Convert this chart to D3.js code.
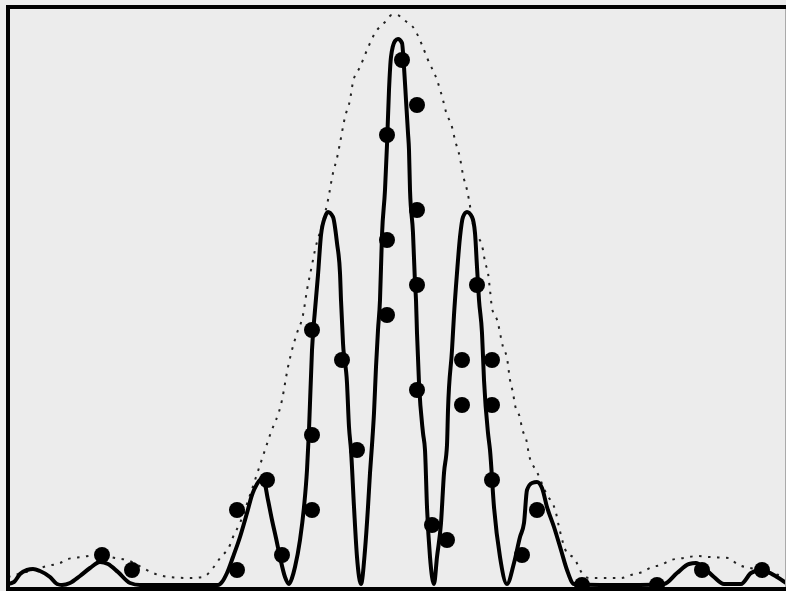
<!DOCTYPE html>
<html>
<head>
<meta charset="utf-8">
<script src="https://cdn.jsdelivr.net/npm/d3@7/dist/d3.min.js"></script>
<style>
  html, body { margin: 0; padding: 0; background: #ececec; }
  svg { display: block; }
</style>
</head>
<body>
<svg id="chart" width="786" height="591"></svg>
<script>
// Solid curve: intensity pattern [x, intensity]
const curveX = [-38.9,-38.3,-37.7,-37.0,-36.4,-35.7,-34.7,-34.0,-33.5,-32.7,-31.7,-30.7,-29.7,-28.9,-27.9,-26.7,-25.7,-21.7,-17.9,-17.5,-17.0,-16.4,-15.7,-15.0,-14.5,-14.0,-13.4,-12.9,-12.5,-12.1,-11.7,-11.2,-10.8,-10.5,-10.2,-9.7,-9.3,-9.0,-8.8,-8.5,-8.2,-7.9,-7.6,-7.2,-6.9,-6.4,-6.0,-5.7,-5.6,-5.4,-5.0,-4.8,-4.6,-4.3,-4.0,-3.6,-3.2,-2.9,-2.7,-2.5,-2.3,-2.1,-1.9,-1.7,-1.5,-1.2,-1.0,-0.8,-0.6,-0.2,0.1,0.5,0.7,0.9,1.1,1.2,1.3,1.6,1.8,1.9,2.0,2.2,2.6,2.8,3.0,3.3,3.7,4.0,4.4,4.7,5.0,5.1,5.5,5.7,6.0,6.3,6.6,7.0,7.5,7.8,8.0,8.2,8.5,8.7,9.1,9.3,9.7,10.3,11.0,11.7,12.3,12.7,13.0,13.5,14.0,14.5,15.0,15.7,16.4,17.0,17.7,20.3,24.3,26.7,28.0,29.2,29.9,30.7,31.7,32.7,34.4,35.4,36.0,37.0,38.0,38.9];
const curveY = [0.1,0.3,1.1,1.5,1.6,1.4,0.8,0.1,0,0.2,0.9,1.7,2.3,2.1,1.3,0.2,0,0,0,0.3,1.2,2.8,4.8,7.2,9.0,10.1,10.7,8.5,6.5,4.7,2.8,0.8,0.1,0.7,1.8,4.5,7.8,11.5,15.5,23.5,27.5,31.0,35.0,36.8,37.3,36.8,34.2,31.2,28.5,24.2,20.2,15.8,13.5,7.8,2.8,0.1,3.5,7.8,11.2,14.0,17.2,21.8,25.5,28.5,35.0,39.5,44.0,49.5,52.8,54.4,54.6,54.2,51.8,48.5,45.2,43.5,39.5,35.2,30.2,28.5,25.2,20.2,15.2,13.5,7.8,2.8,0.1,2.8,6.2,11.2,14.0,17.5,23.5,27.0,31.2,34.8,36.8,37.3,36.8,35.2,31.8,28.5,25.2,20.5,15.2,13.5,7.8,2.8,0.1,2.2,4.8,6.2,9.5,10.2,10.3,9.7,7.8,5.8,3.5,1.5,0.1,0,0,0.1,1.2,2.1,2.2,1.7,0.8,0.1,0.1,1.2,1.4,1.3,0.8,0.2];

// Dotted envelope [x, intensity]
const envX = [-38.9,-38.2,-36.7,-35.0,-33.7,-32.9,-31.5,-30.0,-28.2,-26.7,-25.4,-24.4,-22.7,-20.7,-19.4,-18.4,-17.7,-16.7,-16.4,-15.7,-14.7,-13.7,-12.7,-11.5,-10.9,-10.5,-10.0,-9.4,-9.0,-8.5,-8.2,-7.5,-6.9,-6.4,-6.0,-5.7,-5.2,-4.7,-4.4,-3.7,-3.0,-2.2,-1.2,-0.5,0,0.7,1.8,2.5,3.1,4.0,4.6,4.9,5.5,5.8,6.3,6.6,7.0,7.2,7.6,8.6,8.8,9.1,9.3,9.5,10.1,10.3,10.6,11.0,11.3,11.6,11.8,12.3,12.5,13.0,13.2,14.0,14.9,15.9,16.2,17.0,17.7,18.5,19.2,20.9,22.4,23.4,24.5,25.5,26.4,27.4,28.7,30.0,31.2,33.2,34.0,36.3,38.9];
const envY = [0.8,1.0,1.4,1.9,2.2,2.6,2.8,3.0,2.7,2.4,1.7,1.2,0.8,0.7,0.8,1.7,2.7,4.0,4.8,6.2,9.0,12.0,15.0,18.5,21.8,23.5,25.2,27.0,29.5,32.0,33.5,36.0,38.5,41.2,42.7,44.2,46.8,48.5,50.3,51.8,53.5,55.2,56.3,57.0,57.0,56.5,55.5,54.0,52.5,50.5,48.5,47.3,45.8,44.5,42.7,41.0,39.5,38.5,36.0,33.5,32.3,31.2,29.5,27.7,26.2,25.2,23.8,22.7,20.5,19.2,18.0,16.7,15.7,14.2,13.0,11.3,9.2,7.2,5.8,3.2,2.7,1.2,0.7,0.7,0.7,1.0,1.3,1.8,2.0,2.5,2.7,2.9,2.8,2.7,2.1,1.5,0.8];

// Measured points [x, intensity]
const dotX = [0.5,2,-1,2,-1,2,8,-1,-8.5,-5.5,6.5,9.5,2,6.5,9.5,-8.5,-4,-13,9.5,-16,-8.5,14,3.5,5,-29.5,-11.5,12.5,-26.5,-16,30.5,36.5,18.5,26];
const dotY = [52.5,48,45,37.5,34.5,30,30,27,25.5,22.5,22.5,22.5,19.5,18,18,15,13.5,10.5,10.5,7.5,7.5,7.5,6,4.5,3,3,3,1.5,1.5,1.5,1.5,0,0];

const svg = d3.select("#chart");
const x = d3.scaleLinear().domain([-38.9, 38.9]).range([8, 786]);
const y = d3.scaleLinear().domain([0, 57.8]).range([585, 7]);

svg.append("rect").attr("x", 0).attr("y", 0).attr("width", 786).attr("height", 591).attr("fill", "#ececec");

const envData = envX.map((v, i) => [v, envY[i]]);
const curveData = curveX.map((v, i) => [v, curveY[i]]);

svg.append("path")
  .datum(envData)
  .attr("fill", "none")
  .attr("stroke", "#222")
  .attr("stroke-width", 2)
  .attr("stroke-dasharray", "2.5,6.5")
  .attr("d", d3.line().x(d => x(d[0])).y(d => y(d[1])).curve(d3.curveMonotoneX));

svg.append("path")
  .datum(curveData)
  .attr("fill", "none")
  .attr("stroke", "#000")
  .attr("stroke-width", 4)
  .attr("stroke-linejoin", "round")
  .attr("d", d3.line().x(d => x(d[0])).y(d => y(d[1])).curve(d3.curveMonotoneX));

svg.append("g").selectAll("circle")
  .data(dotX.map((v, i) => [v, dotY[i]]))
  .join("circle")
  .attr("cx", d => x(d[0]))
  .attr("cy", d => y(d[1]))
  .attr("r", 8)
  .attr("fill", "#000");

// frame
svg.append("line").attr("x1", 785.5).attr("x2", 785.5).attr("y1", 7).attr("y2", 589)
  .attr("stroke", "#aaa").attr("stroke-width", 1);
svg.append("path")
  .attr("d", `M${x.range()[1] + 2},${y.range()[1]} H${x.range()[0]} V${y.range()[0] + 4} H${x.range()[1] + 2}`)
  .attr("fill", "none")
  .attr("stroke", "#000")
  .attr("stroke-width", 4);
</script>
</body>
</html>
